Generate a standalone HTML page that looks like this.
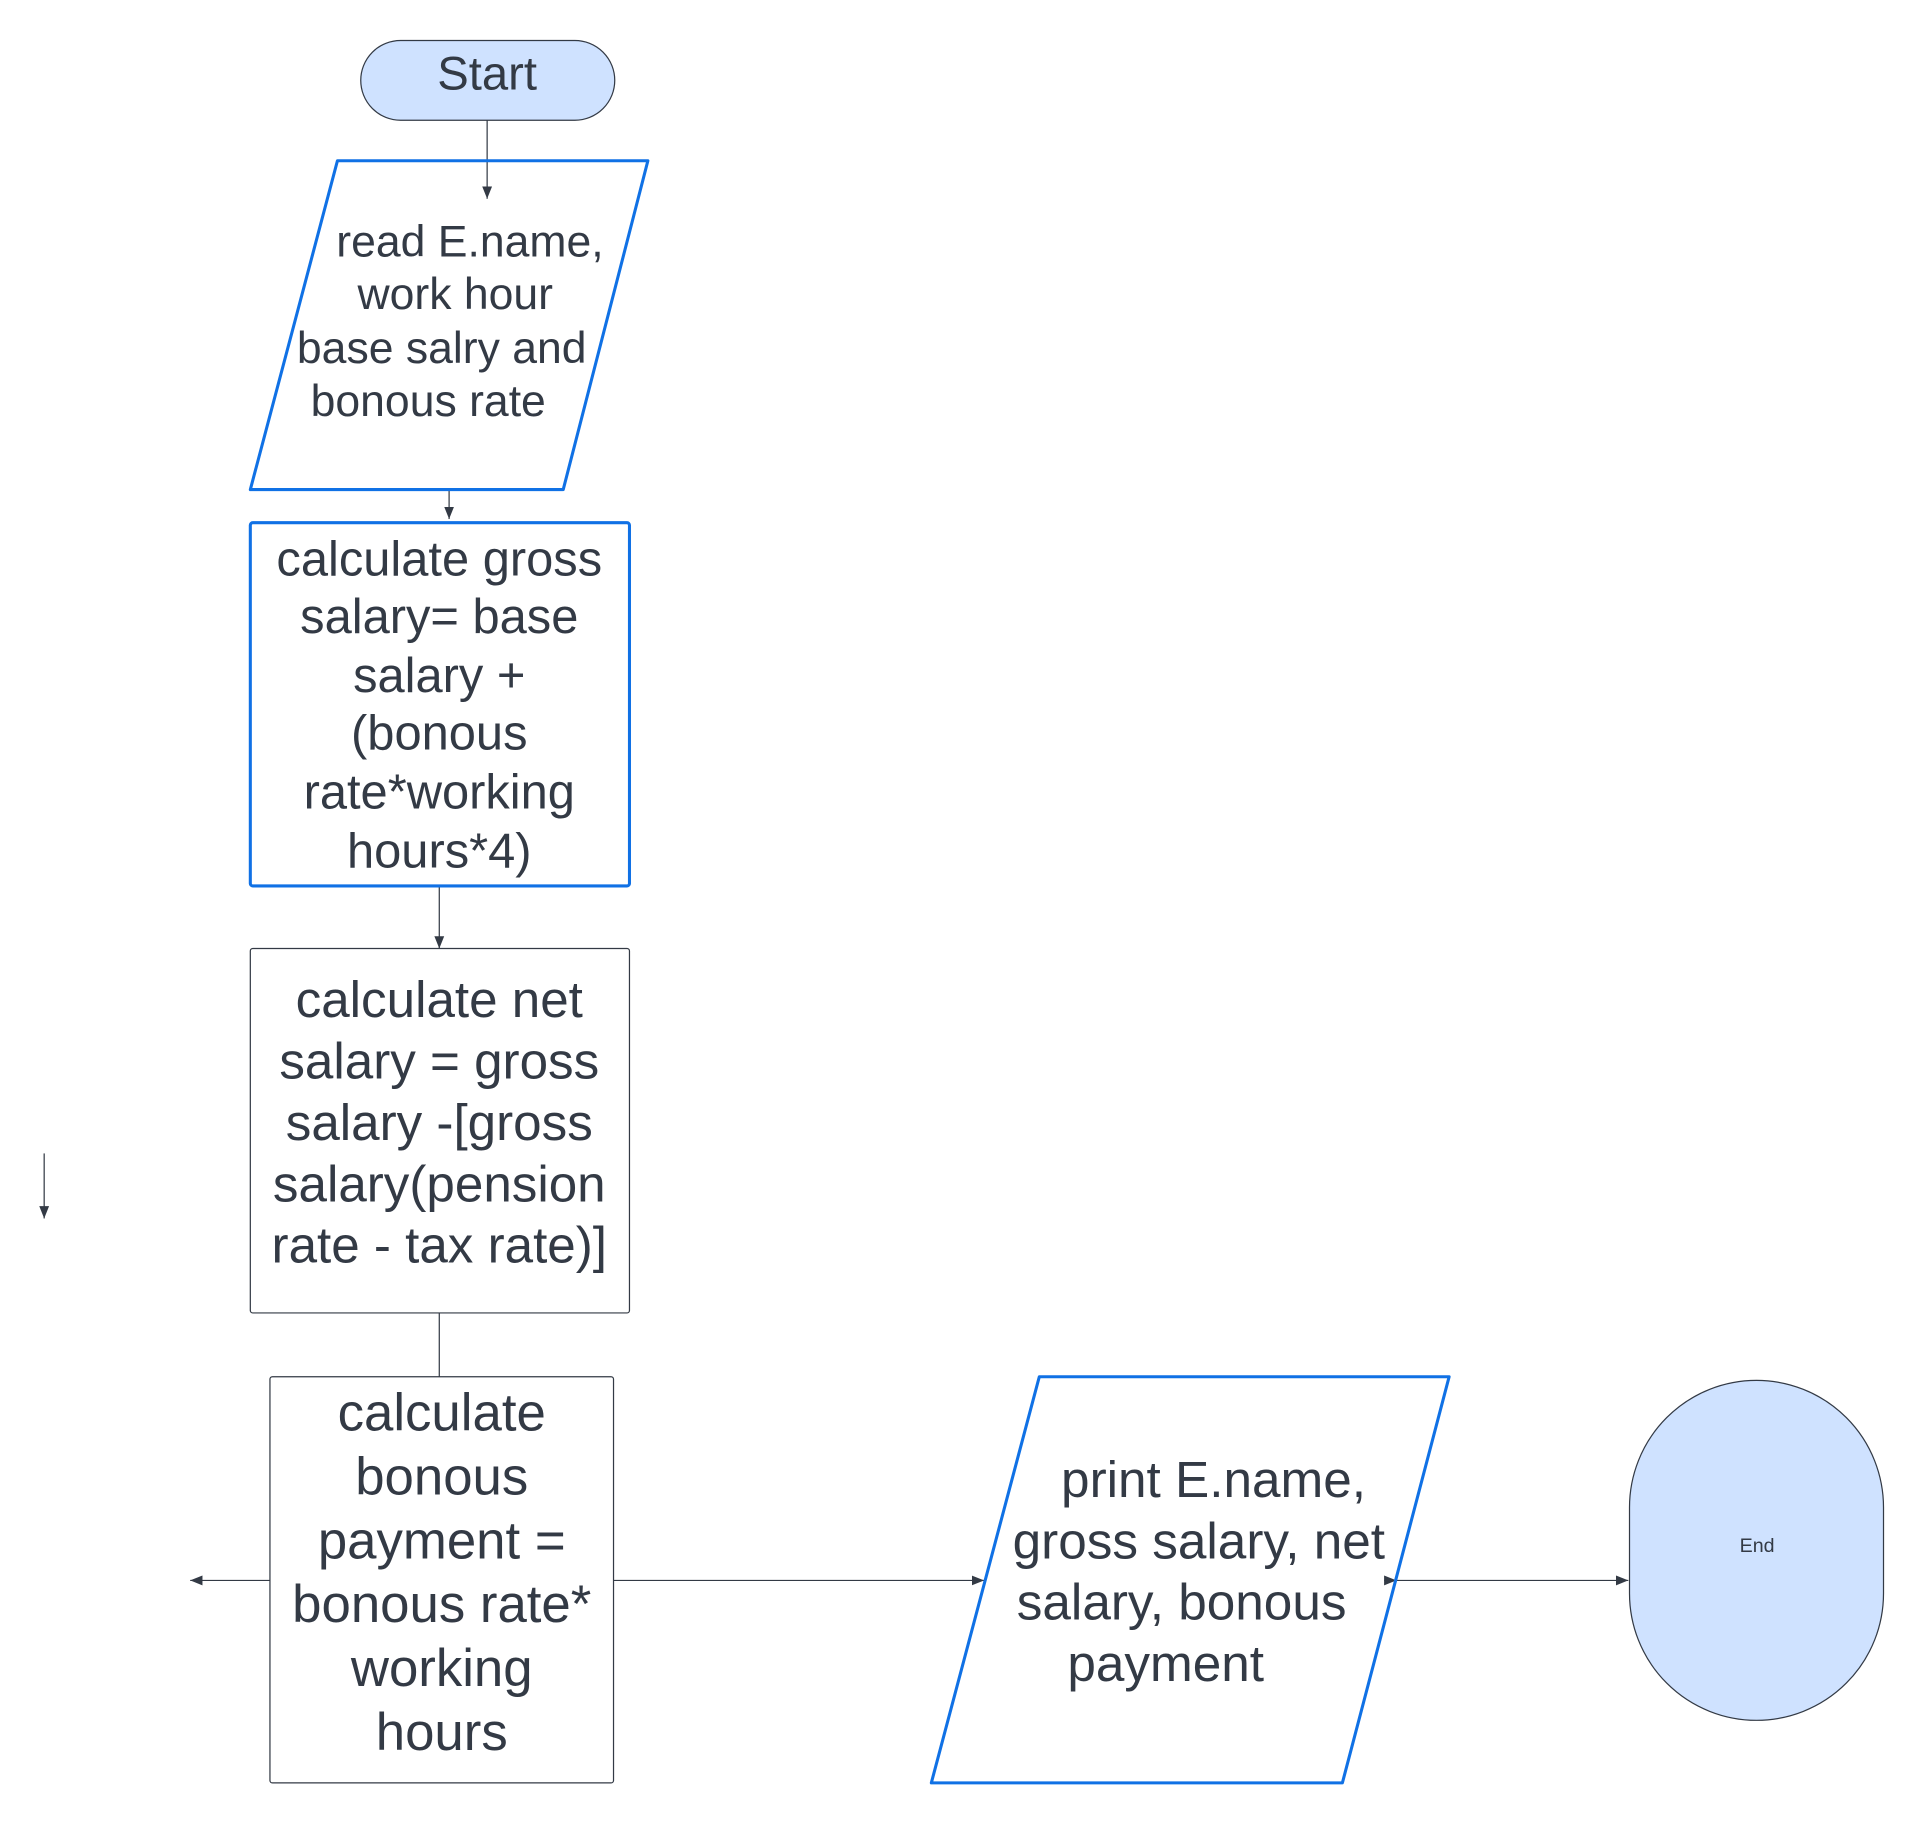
<!DOCTYPE html>
<html><head><meta charset="utf-8"><style>
html,body{margin:0;padding:0;background:#fff;}
svg{display:block}
text{font-family:"Liberation Sans",Arial,sans-serif;fill:#333a45;text-anchor:middle;}
</style></head><body>
<svg width="1924" height="1824" viewBox="0 0 1568 1486.5" xmlns="http://www.w3.org/2000/svg">
<defs>
<marker id="a" viewBox="0 0 10 10" refX="10" refY="5" markerWidth="10" markerHeight="10" markerUnits="userSpaceOnUse" orient="auto"><path d="M0,1 L10,5 L0,9 z" fill="#333a45"/></marker>
</defs>
<g stroke="#333a45" stroke-width="1" fill="none">
<line x1="397" y1="97" x2="397" y2="162" marker-end="url(#a)"/>
<line x1="366" y1="399" x2="366" y2="423" marker-end="url(#a)"/>
<line x1="358" y1="722" x2="358" y2="773" marker-end="url(#a)"/>
<line x1="358" y1="1070" x2="358" y2="1122"/>
<line x1="220" y1="1288" x2="155" y2="1288" marker-end="url(#a)"/>
<line x1="500" y1="1288" x2="802" y2="1288" marker-end="url(#a)"/>
<line x1="1128" y1="1288" x2="1138" y2="1288" marker-end="url(#a)"/>
<line x1="1138" y1="1288" x2="1327" y2="1288" marker-end="url(#a)"/>
<line x1="36" y1="940" x2="36" y2="993" marker-end="url(#a)"/>
</g>
<rect x="294" y="33" width="207" height="65" rx="32.5" fill="#cfe2ff" stroke="#333a45" stroke-width="1"/>
<text x="397" y="73" font-size="38.5">Start</text>

<path d="M275,131 L528,131 L459,399 L204,399 Z" fill="none" stroke="#1071e5" stroke-width="2.5" stroke-linejoin="round"/>
<g font-size="36.3"><text x="383" y="209">read E.name,</text><text x="371" y="252">work hour</text><text x="360" y="296">base salry and</text><text x="349" y="339">bonous rate</text></g>

<rect x="204" y="426" width="309" height="296" rx="2" fill="none" stroke="#1071e5" stroke-width="2.5"/>
<g font-size="39.8"><text x="358" y="469">calculate gross</text><text x="358" y="516">salary= base</text><text x="358" y="564">salary +</text><text x="358" y="611">(bonous</text><text x="358" y="659">rate*working</text><text x="358" y="707">hours*4)</text></g>

<rect x="204" y="773" width="309" height="297" rx="2" fill="none" stroke="#333a45" stroke-width="1"/>
<g font-size="41.7"><text x="358" y="829">calculate net</text><text x="358" y="879">salary = gross</text><text x="358" y="929">salary -[gross</text><text x="358" y="979">salary(pension</text><text x="358" y="1029">rate - tax rate)]</text></g>

<rect x="220" y="1122" width="280" height="331" rx="2" fill="none" stroke="#333a45" stroke-width="1"/>
<g font-size="43"><text x="360" y="1166">calculate</text><text x="360" y="1218">bonous</text><text x="360" y="1270">payment =</text><text x="360" y="1322">bonous rate*</text><text x="360" y="1374">working</text><text x="360" y="1426">hours</text></g>

<path d="M847,1122 L1181,1122 L1094,1453 L759,1453 Z" fill="none" stroke="#1071e5" stroke-width="2.5" stroke-linejoin="round"/>
<g font-size="41.8"><text x="989" y="1220">print E.name,</text><text x="977" y="1270">gross salary, net</text><text x="963" y="1320">salary, bonous</text><text x="950" y="1370">payment</text></g>

<rect x="1328" y="1125" width="207" height="277" rx="103.5" fill="#cfe2ff" stroke="#333a45" stroke-width="1"/>
<text x="1432" y="1265" font-size="16">End</text>
</svg>
</body></html>
